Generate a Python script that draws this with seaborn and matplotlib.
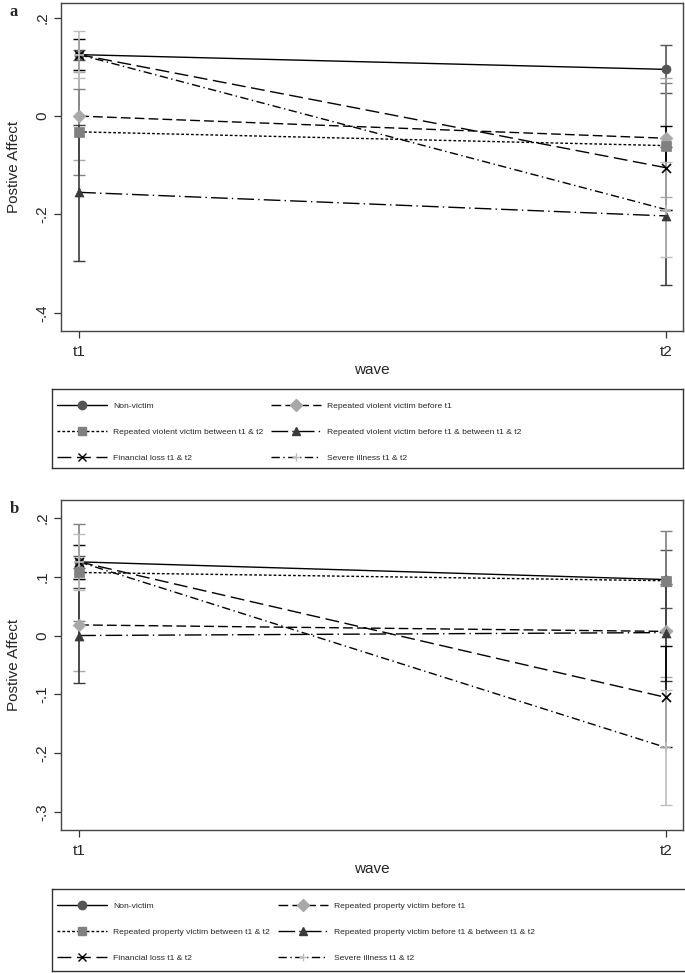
import numpy as np
import pandas as pd
import matplotlib
matplotlib.use("Agg")
import matplotlib.pyplot as plt
from matplotlib.lines import Line2D
import seaborn as sns

# ---- data ----
waves = ["t1", "t2"]

groups_a = ["Non-victim",
            "Repeated violent victim before t1",
            "Repeated violent victim between t1 & t2",
            "Repeated violent victim before t1 & between t1 & t2",
            "Financial loss t1 & t2",
            "Severe illness t1 & t2"]
mean_a_t1 = [0.125, 0.0, -0.032, -0.155, 0.125, 0.125]
mean_a_t2 = [0.095, -0.045, -0.06, -0.203, -0.105, -0.19]
lo_a_t1 = [0.115, -0.09, -0.12, -0.294, 0.093, 0.077]
hi_a_t1 = [0.135, 0.09, 0.056, -0.018, 0.157, 0.173]
lo_a_t2 = [0.046, -0.165, -0.19, -0.343, -0.19, -0.287]
hi_a_t2 = [0.145, 0.077, 0.068, -0.063, -0.02, -0.093]

groups_b = ["Non-victim",
            "Repeated property victim before t1",
            "Repeated property victim between t1 & t2",
            "Repeated property victim before t1 & between t1 & t2",
            "Financial loss t1 & t2",
            "Severe illness t1 & t2"]
mean_b_t1 = [0.125, 0.018, 0.107, 0.0, 0.125, 0.125]
mean_b_t2 = [0.095, 0.007, 0.093, 0.005, -0.105, -0.19]
lo_b_t1 = [0.115, -0.06, 0.024, -0.08, 0.096, 0.077]
hi_b_t1 = [0.135, 0.096, 0.19, 0.08, 0.154, 0.173]
lo_b_t2 = [0.046, -0.07, 0.009, -0.078, -0.19, -0.287]
hi_b_t2 = [0.145, 0.084, 0.177, 0.088, -0.018, -0.093]

yticks_a = [-0.4, -0.2, 0.0, 0.2]
ytick_labels_a = ["-.4", "-.2", "0", ".2"]
yticks_b = [-0.3, -0.2, -0.1, 0.0, 0.1, 0.2]
ytick_labels_b = ["-.3", "-.2", "-.1", "0", ".1", ".2"]

# ---- styles (per series position) ----
markers = ["o", "D", "s", "^", "x", "+"]
colors = ["#555555", "#a8a8a8", "#808080", "#3a3a3a", "#000000", "#bdbdbd"]
dashes = ["", (7, 3), (2, 1.5), (12, 3, 1, 3), (10, 4), (6, 2.5, 1, 2.5)]

sns.set_style("white")
plt.rcParams["font.family"] = ["Liberation Sans", "DejaVu Sans"]
legend_size = 6.1


def make_frame(groups, t1, t2, lo1, hi1, lo2, hi2):
    rows = []
    for i, g in enumerate(groups):
        rows.append({"group": g, "x": 0, "value": t1[i], "lo": lo1[i], "hi": hi1[i]})
        rows.append({"group": g, "x": 1, "value": t2[i], "lo": lo2[i], "hi": hi2[i]})
    return pd.DataFrame(rows)


def draw_panel(ax, df, groups, yticks, ylabels, ylim):
    pal_black = {g: "black" for g in groups}
    sns.lineplot(data=df, x="x", y="value", hue="group", style="group",
                 palette=pal_black, dashes=dict(zip(groups, dashes)),
                 hue_order=groups, style_order=groups,
                 linewidth=1.0, legend=False, ax=ax, sort=False, zorder=2)
    for i, g in enumerate(groups):
        sub = df[df["group"] == g]
        ax.errorbar(sub["x"], sub["value"],
                    yerr=[sub["value"] - sub["lo"], sub["hi"] - sub["value"]],
                    fmt="none", ecolor=colors[i], elinewidth=1.2,
                    capsize=4, capthick=1.0, zorder=3)
    for i, g in enumerate(groups):
        sub = df[df["group"] == g]
        if markers[i] in ("x", "+"):
            sns.scatterplot(data=sub, x="x", y="value", marker=markers[i],
                            color=colors[i], s=42, linewidth=1.2,
                            legend=False, ax=ax, zorder=4)
        else:
            sns.scatterplot(data=sub, x="x", y="value", marker=markers[i],
                            color=colors[i], edgecolor=colors[i], s=42,
                            linewidth=0.5, legend=False, ax=ax, zorder=4)
    ax.set_xlim(-0.031, 1.029)
    ax.set_ylim(*ylim)
    ax.set_xticks([0, 1])
    ax.set_xticklabels(waves, fontsize=11)
    ax.set_yticks(yticks)
    ax.set_yticklabels(ylabels, fontsize=11, rotation=90, va="center")
    ax.tick_params(axis="both", direction="out", length=5, width=0.9,
                   color="#333333", left=True, bottom=True)
    ax.tick_params(axis="x", pad=5)
    ax.set_xlabel("wave", fontsize=11, labelpad=3)
    ax.set_ylabel("Postive Affect", fontsize=11, labelpad=10)
    for s in ax.spines.values():
        s.set_color("#444444")
        s.set_linewidth(1.0)


def draw_legend(fig, rect, groups):
    lax = fig.add_axes(rect)
    lax.set_xticks([])
    lax.set_yticks([])
    for s in lax.spines.values():
        s.set_color("#333333")
        s.set_linewidth(1.0)
    handles = []
    for i, g in enumerate(groups):
        kw = dict(color="black", linewidth=1.0, marker=markers[i],
                  markerfacecolor=colors[i], markeredgecolor=colors[i],
                  markersize=6)
        if dashes[i] == "":
            h = Line2D([], [], linestyle="-", **kw)
        else:
            h = Line2D([], [], dashes=dashes[i], **kw)
        handles.append(h)
    # column-major order so rows read like the reference
    order = [0, 2, 4, 1, 3, 5]
    fs = legend_size * 1.389  # px
    w_px, h_px = rect[2] * 685, rect[3] * 973
    lax.legend([handles[k] for k in order], [groups[k] for k in order],
               loc="upper left", bbox_to_anchor=(5 / w_px, 1.0 - 13 / h_px),
               ncol=2, frameon=False,
               prop={"size": legend_size},
               handlelength=50 / fs, handletextpad=6 / fs,
               labelspacing=(26.5 - fs) / fs, columnspacing=8 / fs,
               borderpad=0.0, borderaxespad=0.0, numpoints=1)


fig = plt.figure(figsize=(6.85, 9.73), dpi=100)

ax_a = fig.add_axes([61 / 685, 1 - 331 / 973, 622 / 685, 328 / 973])
df_a = make_frame(groups_a, mean_a_t1, mean_a_t2, lo_a_t1, hi_a_t1, lo_a_t2, hi_a_t2)
draw_panel(ax_a, df_a, groups_a, yticks_a, ytick_labels_a, (-0.437, 0.230))
draw_legend(fig, [52 / 685, 1 - 468 / 973, 631 / 685, 79 / 973], groups_a)

ax_b = fig.add_axes([61 / 685, 1 - 830 / 973, 622 / 685, 330 / 973])
df_b = make_frame(groups_b, mean_b_t1, mean_b_t2, lo_b_t1, hi_b_t1, lo_b_t2, hi_b_t2)
draw_panel(ax_b, df_b, groups_b, yticks_b, ytick_labels_b, (-0.330, 0.230))
draw_legend(fig, [52 / 685, 1 - 971 / 973, 640 / 685, 82 / 973], groups_b)

fig.text(10 / 685, 1 - 12 / 973, "a", fontsize=12, fontweight="bold",
         family=["Liberation Serif", "DejaVu Serif"], va="center")
fig.text(10 / 685, 1 - 509 / 973, "b", fontsize=12, fontweight="bold",
         family=["Liberation Serif", "DejaVu Serif"], va="center")

fig.savefig("out.png", dpi=100)
